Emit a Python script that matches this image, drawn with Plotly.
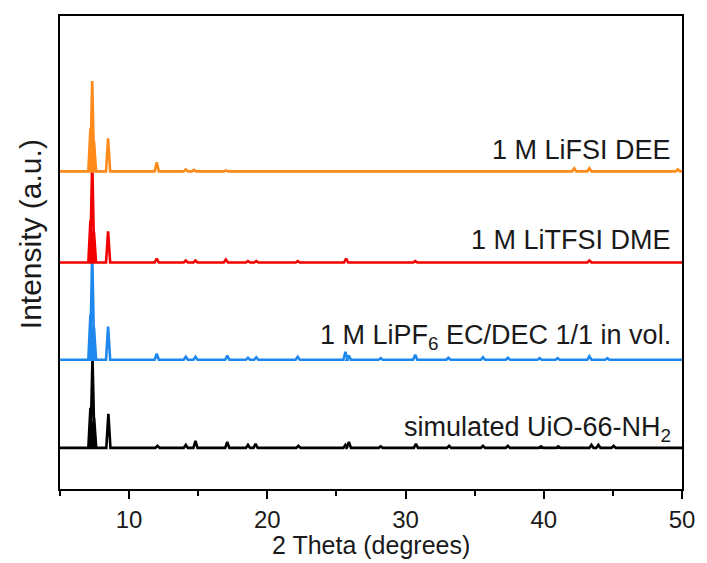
import plotly.graph_objects as go

# ---------------- data ----------------
# peak positions (2 theta, degrees) and peak heights (a.u.) for each pattern
sim_pos = [7.20, 7.35, 7.47, 8.50, 12.05, 14.10, 14.80, 17.10, 18.60, 19.15, 22.25,
           25.65, 25.90, 28.20, 30.75, 33.15, 35.60, 37.40, 39.80, 41.05, 43.45, 43.95, 45.05]
sim_int = [40, 91, 30, 34, 2, 3, 7, 6, 3, 4, 2,
           3, 6, 1.5, 4, 2, 2, 2, 1.5, 1.5, 3, 3, 2]

pf6_pos = [7.20, 7.33, 7.46, 8.48, 12.00, 14.10, 14.80, 17.10, 18.60, 19.20, 22.20,
           25.65, 25.90, 28.20, 30.70, 33.10, 35.60, 37.40, 39.70, 41.00, 43.30, 44.60]
pf6_int = [45, 108, 32, 33, 6, 3, 3, 4, 2, 2.5, 3,
           8, 4, 1.5, 5, 2, 2.5, 2, 1.5, 1.5, 3.5, 1.5]

tfsi_pos = [7.20, 7.33, 7.46, 8.48, 12.00, 14.10, 14.80, 17.00, 18.60, 19.20, 22.20,
            25.70, 30.70, 43.30]
tfsi_int = [42, 103, 30, 31, 4, 2, 2, 3, 1.5, 1.5, 1.5,
            4, 1.5, 2]

fsi_pos = [7.20, 7.33, 7.46, 8.48, 12.00, 14.10, 14.70, 17.00, 42.20, 43.30, 49.70]
fsi_int = [43, 90, 30, 33, 9, 2, 1.5, 1, 3, 3, 2]

# vertical offsets of the stacked patterns (a.u.)
offsets = {"sim": 0, "pf6": 88, "tfsi": 185, "fsi": 276}

labels = {
    "sim": "simulated UiO-66-NH<sub>2</sub>",
    "pf6": "1 M LiPF<sub>6</sub> EC/DEC 1/1 in vol.",
    "tfsi": "1 M LiTFSI DME",
    "fsi": "1 M LiFSI DEE",
}
colors = {"sim": "#000000", "pf6": "#1F88EE", "tfsi": "#F20000", "fsi": "#FF8A1C"}

x_range = [5, 50]
x_ticks = [10, 20, 30, 40, 50]


def pattern(pos, inten, offset, width=0.15):
    xs, ys = [x_range[0]], [offset]
    for p, h in sorted(zip(pos, inten)):
        xs += [p - width, p, p + width]
        ys += [offset, offset + h, offset]
    xs.append(x_range[1])
    ys.append(offset)
    return xs, ys


series = [("sim", sim_pos, sim_int), ("pf6", pf6_pos, pf6_int),
          ("tfsi", tfsi_pos, tfsi_int), ("fsi", fsi_pos, fsi_int)]

FONT = "Liberation Sans, Arial, sans-serif"
TXT = "#1a1a1a"

fig = go.Figure()
for key, pos, inten in series:
    xs, ys = pattern(pos, inten, offsets[key])
    fig.add_trace(go.Scatter(x=xs, y=ys, mode="lines",
                             line=dict(color=colors[key], width=2.6),
                             showlegend=False, hoverinfo="skip"))

label_y = {"sim": 19, "pf6": 111, "tfsi": 207, "fsi": 297}
for key in ["sim", "pf6", "tfsi", "fsi"]:
    fig.add_annotation(x=0.985, y=label_y[key], xref="paper", yref="y",
                       text=labels[key], showarrow=False, xanchor="right",
                       yanchor="middle", font=dict(size=27, color=TXT, family=FONT))

fig.add_annotation(x=-0.048, y=0.539, xref="paper", yref="paper",
                   text="Intensity (a.u.)", textangle=-90, showarrow=False,
                   xanchor="center", yanchor="middle",
                   font=dict(size=30, color=TXT, family=FONT))
fig.add_annotation(x=0.5, y=-0.118, xref="paper", yref="paper",
                   text="2 Theta (degrees)", showarrow=False,
                   xanchor="center", yanchor="middle",
                   font=dict(size=25, color=TXT, family=FONT))

fig.update_layout(
    width=707, height=563,
    margin=dict(l=60, r=19, t=16, b=74),
    paper_bgcolor="white", plot_bgcolor="white",
    font=dict(family=FONT, color=TXT),
)
fig.update_xaxes(range=x_range, tickvals=x_ticks, ticks="outside", ticklen=8,
                 tickwidth=2, tickcolor="black", ticklabelstandoff=0,
                 minor=dict(tickvals=[5, 15, 25, 35, 45], ticks="outside", ticklen=5,
                            tickwidth=2, tickcolor="black"),
                 showline=True, linewidth=2.2, linecolor="black", mirror=True,
                 showgrid=False, zeroline=False,
                 tickfont=dict(size=24, family=FONT, color=TXT))
fig.update_yaxes(range=[-41, 431], showticklabels=False, ticks="",
                 showline=True, linewidth=2.2, linecolor="black", mirror=True,
                 showgrid=False, zeroline=False)

fig.write_html("out.html")
